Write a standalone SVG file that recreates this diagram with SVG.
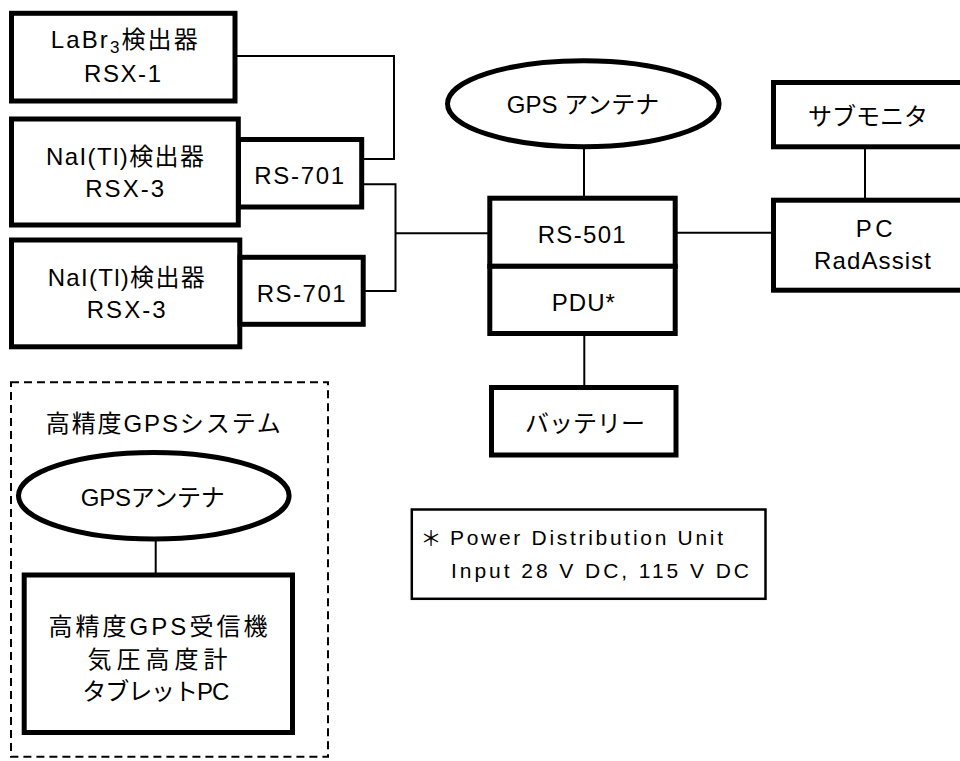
<svg xmlns="http://www.w3.org/2000/svg" width="960" height="761" viewBox="0 0 960 761">
<style>
.box{fill:#fff;stroke:#000;stroke-width:5}
.thin{fill:none;stroke:#000;stroke-width:2}
.dash{fill:none;stroke:#000;stroke-width:2;stroke-dasharray:8 5}
.note{fill:#fff;stroke:#000;stroke-width:2.5}
text{font-family:"Liberation Sans","Noto Sans CJK JP",sans-serif;font-size:24px;fill:#000;text-anchor:middle}
.fn{font-size:21px;text-anchor:start}
</style>
<rect width="960" height="761" fill="#fff"/>
<g id="connectors">
<path class="thin" d="M235 56H394V159H361.7"/>
<path class="thin" d="M361.7 184.3H395.5V291H363.2"/>
<path class="thin" d="M395.5 233.3H490"/>
<path class="thin" d="M675 232.7H773.5"/>
<path class="thin" d="M584 147V198"/>
<path class="thin" d="M584.3 333.5V387.5"/>
<path class="thin" d="M865 146.8V200.2"/>
<path class="thin" d="M155.7 539V575"/>
</g>
<g id="labr3">
<rect class="box" x="11.5" y="13.3" width="223.5" height="87.7"/>
<text x="124.2" y="48" textLength="147" lengthAdjust="spacing">LaBr<tspan font-size="17" dy="5">3</tspan><tspan dy="-5">検出器</tspan></text>
<text x="122.5" y="82" textLength="77" lengthAdjust="spacing">RSX-1</text>
</g>
<g id="nai1">
<rect class="box" x="11.5" y="119" width="226.8" height="106"/>
<text x="125" y="165" textLength="158" lengthAdjust="spacing">NaI(Tl)検出器</text>
<text x="124.7" y="197" textLength="79" lengthAdjust="spacing">RSX-3</text>
</g>
<g id="rs701a">
<rect class="box" x="238.5" y="139.5" width="123.2" height="67.5"/>
<text x="299.2" y="184" textLength="90" lengthAdjust="spacing">RS-701</text>
</g>
<g id="nai2">
<rect class="box" x="11.5" y="240" width="228.3" height="106.8"/>
<text x="126.2" y="286" textLength="157" lengthAdjust="spacing">NaI(Tl)検出器</text>
<text x="126.2" y="318" textLength="79" lengthAdjust="spacing">RSX-3</text>
</g>
<g id="rs701b">
<rect class="box" x="240" y="257.3" width="123.2" height="67"/>
<text x="301.2" y="301.5" textLength="89" lengthAdjust="spacing">RS-701</text>
</g>
<g id="gps-antenna">
<ellipse class="box" cx="583.3" cy="103.8" rx="135.8" ry="43"/>
<text x="583" y="113">GPS アンテナ</text>
</g>
<g id="rs501">
<rect class="box" x="489.8" y="198.2" width="185.4" height="68.1"/>
<text x="581.7" y="243" textLength="88" lengthAdjust="spacing">RS-501</text>
</g>
<g id="pdu">
<rect class="box" x="489.8" y="266.3" width="185.4" height="67.2"/>
<text x="583.3" y="310.5" textLength="63" lengthAdjust="spacing">PDU*</text>
</g>
<g id="battery">
<rect class="box" x="491.5" y="387.5" width="184.5" height="67.5"/>
<text x="585" y="431.5">バッテリー</text>
</g>
<g id="submonitor">
<rect class="box" x="773.5" y="82.5" width="220" height="64.3"/>
<text x="868" y="125">サブモニタ</text>
</g>
<g id="pc">
<rect class="box" x="773.5" y="200.2" width="220" height="90"/>
<text x="874.2" y="237" textLength="37" lengthAdjust="spacing">PC</text>
<text x="872.5" y="268.5" textLength="117" lengthAdjust="spacing">RadAssist</text>
</g>
<g id="hp-gps-system">
<rect class="dash" x="11" y="382.3" width="317" height="374.4"/>
<text x="163.3" y="431.5" textLength="235" lengthAdjust="spacing">高精度GPSシステム</text>
</g>
<g id="gps-antenna2">
<ellipse class="box" cx="153.8" cy="495.8" rx="135.3" ry="43.3"/>
<text x="152.8" y="505.5" textLength="144" lengthAdjust="spacing">GPSアンテナ</text>
</g>
<g id="receiver">
<rect class="box" x="24.2" y="575" width="268.3" height="157.5"/>
<text x="158" y="635" textLength="219" lengthAdjust="spacing">高精度GPS受信機</text>
<text x="157.5" y="668" textLength="140" lengthAdjust="spacing">気圧高度計</text>
<text x="155.8" y="700" textLength="147" lengthAdjust="spacing">タブレットPC</text>
</g>
<g id="footnote">
<rect class="note" x="411.8" y="509.5" width="353.7" height="89.3"/>
<text class="fn" x="420.5" y="546">＊</text>
<text class="fn" x="450" y="545" textLength="273" lengthAdjust="spacing">Power Distribution Unit</text>
<text class="fn" x="451" y="578" textLength="298" lengthAdjust="spacing">Input 28 V DC, 115 V DC</text>
</g>
</svg>
